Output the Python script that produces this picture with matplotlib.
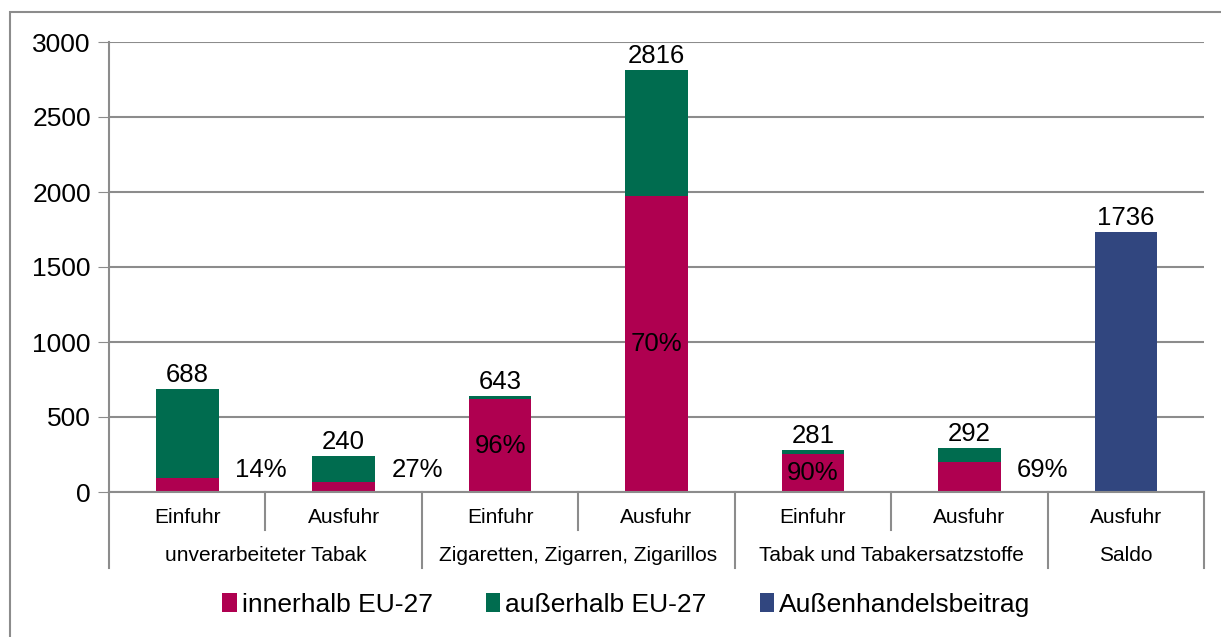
import matplotlib.pyplot as plt
from matplotlib.patches import Rectangle

plt.rcParams['font.family'] = ['Liberation Sans', 'DejaVu Sans']

# data
sub_labels = ['Einfuhr', 'Ausfuhr', 'Einfuhr', 'Ausfuhr', 'Einfuhr', 'Ausfuhr', 'Ausfuhr']
groups = ['unverarbeiteter Tabak', 'Zigaretten, Zigarren, Zigarillos',
          'Tabak und Tabakersatzstoffe', 'Saldo']
group_span = [(0, 1), (2, 3), (4, 5), (6, 6)]
totals = [688, 240, 643, 2816, 281, 292, 1736]
innerhalb = [96, 65, 617, 1971, 253, 201, 0]
ausserhalb = [592, 175, 26, 845, 28, 91, 0]
beitrag = [0, 0, 0, 0, 0, 0, 1736]
share = ['14%', '27%', '96%', '70%', '90%', '69%', '']
share_inside = [False, False, True, True, True, False, False]

c_in = '#AF0050'
c_out = '#006C4F'
c_blue = '#31467F'
grey = '#8C8C8C'

fig = plt.figure(figsize=(12.21, 6.37), dpi=100)
ax = fig.add_axes([109 / 1221, 1 - 492 / 637, (1204 - 109) / 1221, 450 / 637])

x = list(range(len(totals)))
w = 0.4
b1 = ax.bar(x, innerhalb, w, color=c_in, label='innerhalb EU-27')
b2 = ax.bar(x, ausserhalb, w, bottom=innerhalb, color=c_out, label='außerhalb EU-27')
b3 = ax.bar(x, beitrag, w, color=c_blue, label='Außenhandelsbeitrag')

for i in x:
    ax.text(i, totals[i] + 12, str(totals[i]), ha='center', va='bottom', fontsize=18.5)
    if not share[i]:
        continue
    if share_inside[i]:
        ax.text(i, innerhalb[i] / 2, share[i], ha='center', va='center', fontsize=18.5)
    else:
        ax.text(i + 0.47, 145, share[i], ha='center', va='center', fontsize=18.5)

ax.set_xlim(-0.5, 6.5)
ax.set_ylim(0, 3000)
ax.set_yticks(range(0, 3001, 500))
ax.tick_params(axis='y', labelsize=19, length=8, color=grey, pad=5)
ax.tick_params(axis='x', length=0)
ax.set_xticks([])
ax.grid(axis='y', color=grey, linewidth=1.5)
ax.set_axisbelow(True)
for s in ['top', 'right']:
    ax.spines[s].set_visible(False)
ax.spines['left'].set_color(grey)
ax.spines['left'].set_linewidth(1.5)
ax.spines['bottom'].set_color(grey)
ax.spines['bottom'].set_linewidth(1.5)

# two-level category axis
tr = ax.get_xaxis_transform()
for i, lab in enumerate(sub_labels):
    ax.text(i, -0.056, lab, transform=tr, ha='center', va='center', fontsize=15)
for g, (a, b) in zip(groups, group_span):
    ax.text((a + b) / 2, -0.142, g, transform=tr, ha='center', va='center', fontsize=15)
for xs in [-0.5, 1.5, 3.5, 5.5, 6.5]:
    ax.plot([xs, xs], [0, -0.169], transform=tr, color=grey, lw=1.5, clip_on=False)
for xs in [0.5, 2.5, 4.5]:
    ax.plot([xs, xs], [0, -0.084], transform=tr, color=grey, lw=1.5, clip_on=False)

fig.legend(handles=[b1, b2, b3], loc='center', bbox_to_anchor=(0.513, 1 - 605 / 637),
           ncol=3, frameon=False, fontsize=19, handlelength=0.55, handleheight=0.75,
           handletextpad=0.2, columnspacing=2.0)

# outer chart frame
fig.patches.append(Rectangle((10 / 1221, -0.1), 1.2, 1.1 - 12 / 637,
                             transform=fig.transFigure, fill=False,
                             edgecolor=grey, linewidth=1.5))

fig.savefig('out.png', dpi=100)
